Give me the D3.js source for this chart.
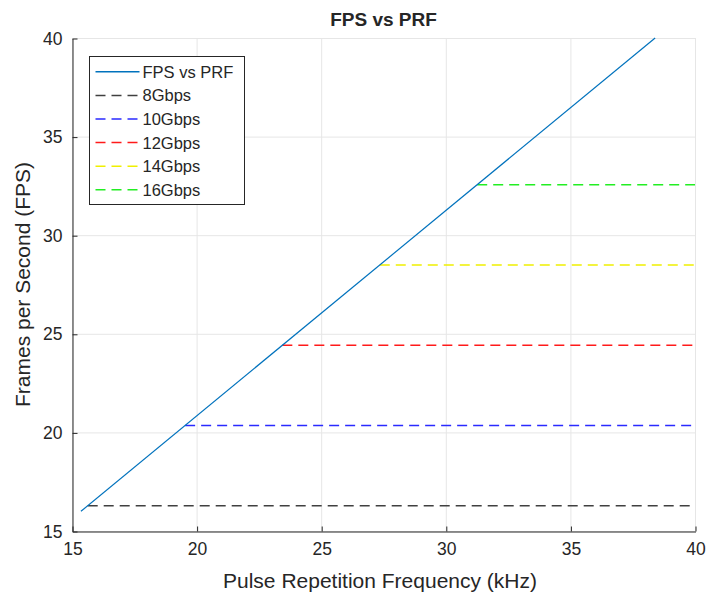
<!DOCTYPE html>
<html>
<head>
<meta charset="utf-8">
<script src="https://cdn.jsdelivr.net/npm/d3@7"></script>
<style>
  body { margin: 0; background: #fff; }
  text { font-family: "Liberation Sans", Arial, sans-serif; fill: #262626; }
</style>
</head>
<body>
<svg id="chart" width="708" height="594"></svg>
<script>
// FPS vs PRF line
const prf = [15.36, 38.4];
const fps = [16, 40];

// bandwidth limits (horizontal dashed lines)
const rates = ["8Gbps", "10Gbps", "12Gbps", "14Gbps", "16Gbps"];
const rateFps = [16.28, 20.35, 24.42, 28.49, 32.56];
const rateStart = [15.63, 19.54, 23.44, 27.35, 31.26];
const rateColors = ["#404040", "#2a2aff", "#ff1a1a", "#f0f000", "#22ee22"];

const xTicks = [15, 20, 25, 30, 35, 40];
const yTicks = [15, 20, 25, 30, 35, 40];

const width = 708;
const height = 594;
const margin = { left: 72, right: 13, top: 38, bottom: 63 };

const svg = d3.select("#chart");

const xScale = d3.scaleLinear().domain([15, 40]).range([margin.left, width - margin.right]);
const yScale = d3.scaleLinear().domain([15, 40]).range([height - margin.bottom, margin.top]);

// grid
svg.append("g")
  .selectAll("line")
  .data(xTicks)
  .join("line")
  .attr("x1", (d) => xScale(d) + 0.5).attr("x2", (d) => xScale(d) + 0.5)
  .attr("y1", margin.top).attr("y2", height - margin.bottom)
  .attr("stroke", "#e6e6e6");
svg.append("g")
  .selectAll("line")
  .data(yTicks)
  .join("line")
  .attr("y1", (d) => yScale(d) + 0.5).attr("y2", (d) => yScale(d) + 0.5)
  .attr("x1", margin.left).attr("x2", width - margin.right)
  .attr("stroke", "#e6e6e6");

// axes
const xAxis = d3.axisBottom(xScale).tickValues(xTicks).tickSizeInner(-5).tickSizeOuter(0).tickPadding(11);
const yAxis = d3.axisLeft(yScale).tickValues(yTicks).tickSizeInner(-5).tickSizeOuter(0).tickPadding(10);

const gx = svg.append("g")
  .attr("transform", `translate(0.5,${height - margin.bottom + 0.5})`)
  .call(xAxis);
const gy = svg.append("g")
  .attr("transform", `translate(${margin.left + 0.5},0.5)`)
  .call(yAxis);
[gx, gy].forEach((g) => {
  g.selectAll("path, line").attr("stroke", "#262626");
  g.selectAll("text").style("font-size", "17.5px").attr("fill", "#262626")
    .style("font-family", '"Liberation Sans", Arial, sans-serif');
});

// horizontal rate lines
svg.append("g")
  .selectAll("line")
  .data(rates)
  .join("line")
  .attr("x1", (d, i) => xScale(rateStart[i]))
  .attr("x2", xScale(40))
  .attr("y1", (d, i) => yScale(rateFps[i]))
  .attr("y2", (d, i) => yScale(rateFps[i]))
  .attr("stroke", (d, i) => rateColors[i])
  .attr("stroke-width", 1.5)
  .attr("stroke-dasharray", "10,6");

// main line
const line = d3.line()
  .x((d, i) => xScale(prf[i]))
  .y((d) => yScale(d));
svg.append("path")
  .attr("d", line(fps))
  .attr("fill", "none")
  .attr("stroke", "#0072BD")
  .attr("stroke-width", 1.2);

// titles
svg.append("text")
  .attr("x", (margin.left + width - margin.right) / 2)
  .attr("y", 26)
  .attr("text-anchor", "middle")
  .style("font-size", "19px")
  .style("font-weight", "bold")
  .attr("fill", "#000")
  .text("FPS vs PRF");
svg.append("text")
  .attr("x", 380)
  .attr("y", 588)
  .attr("text-anchor", "middle")
  .style("font-size", "21px")
  .text("Pulse Repetition Frequency (kHz)");
svg.append("text")
  .attr("transform", `translate(30,${(margin.top + height - margin.bottom) / 2}) rotate(-90)`)
  .attr("text-anchor", "middle")
  .style("font-size", "21px")
  .text("Frames per Second (FPS)");

// legend
const legendItems = [{ name: "FPS vs PRF", color: "#0072BD", dash: null }].concat(
  rates.map((r, i) => ({ name: r, color: rateColors[i], dash: "10,6" }))
);
const legend = svg.append("g").attr("transform", "translate(89.5,56.5)");
legend.append("rect")
  .attr("width", 155).attr("height", 148)
  .attr("fill", "#fff").attr("stroke", "#262626");
const item = legend.selectAll("g.item")
  .data(legendItems)
  .join("g")
  .attr("transform", (d, i) => `translate(0,${15.3 + i * 23.6})`);
item.append("line")
  .attr("x1", 6).attr("x2", 50)
  .attr("stroke", (d) => d.color)
  .attr("stroke-width", 1.5)
  .attr("stroke-dasharray", (d) => d.dash);
item.append("text")
  .attr("x", 53).attr("y", 6)
  .style("font-size", "16.5px")
  .attr("fill", "#000")
  .text((d) => d.name);
</script>
</body>
</html>
